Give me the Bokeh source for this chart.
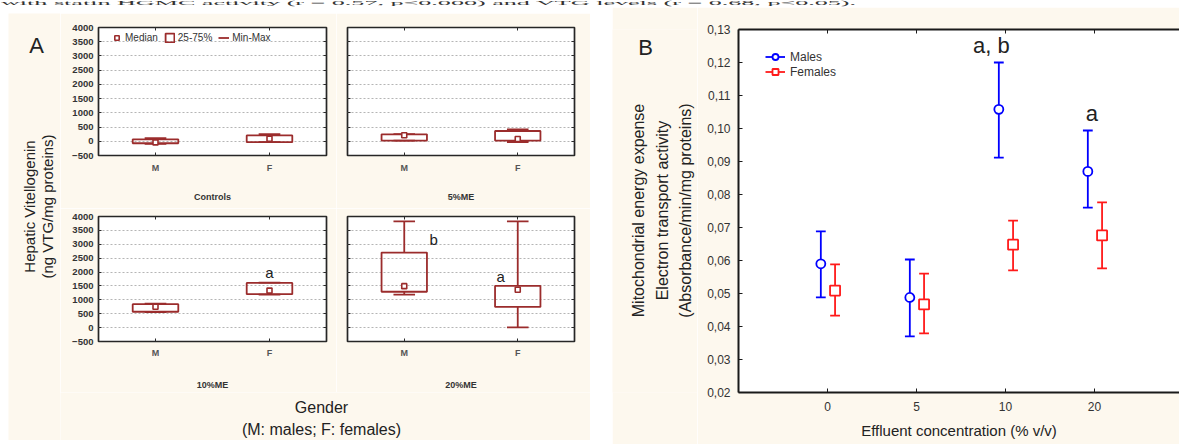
import math
import html
from bokeh.plotting import figure
from bokeh.layouts import row, column
from bokeh.models import (Range1d, FixedTicker, LinearAxis, Legend, LegendItem,
                          CustomJSTickFormatter, Spacer, Div)
from bokeh.core.properties import value
from bokeh.embed import file_html
from bokeh.resources import INLINE

# ---------------- data ----------------
caption = "with statin HGMC activity (r = 0.57, p<0.000) and VTG levels (r = 0.68, p<0.05)."

# Panel A : hepatic vitellogenin box plots (ng VTG/mg proteins)
panel_titles = ["Controls", "5%ME", "10%ME", "20%ME"]
sex_labels = ["M", "F"]
vtg_min = [[-90, -30], [20, -25], [560, 1190], [1185, 12]]
vtg_q1 = [[-70, -30], [23, 23], [571, 1202], [1291, 746]]
vtg_median = [[-40, 90], [210, 80], [750, 1333], [1493, 1362]]
vtg_q3 = [[70, 206], [245, 362], [845, 1607], [2700, 1505]]
vtg_max = [[110, 253], [250, 420], [860, 1620], [3827, 3827]]
vtg_ticks = [-500, 0, 500, 1000, 1500, 2000, 2500, 3000, 3500, 4000]
a_letter_panel = [2, 3, 3]
a_letter_text = ["a", "b", "a"]
a_letter_x = [3.0, 1.52, 2.70]
a_letter_y = [2000, 3175, 1836]

# Panel B : electron transport activity
conc_labels = ["0", "5", "10", "20"]
males_mean = [0.0590, 0.0488, 0.1058, 0.0870]
males_low = [0.0488, 0.0370, 0.0912, 0.0760]
males_high = [0.0688, 0.0603, 0.1200, 0.0994]
females_mean = [0.0509, 0.0467, 0.0648, 0.0676]
females_low = [0.0433, 0.0379, 0.0570, 0.0576]
females_high = [0.0588, 0.0560, 0.0721, 0.0776]
b_ticks = [0.02, 0.03, 0.04, 0.05, 0.06, 0.07, 0.08, 0.09, 0.10, 0.11, 0.12, 0.13]
b_letter_text = ["a, b", "a"]
b_letter_x = [1.84, 2.97]
b_letter_y = [0.1252, 0.1045]

# ---------------- styles ----------------
CREAM = "#fdf8ee"
BOX_RED = "#9b2c2c"
BLUE = "#0000ff"
RED = "#ff1a1a"
FONT = "Liberation Sans"
SEX_POS = [1, 3]


def hide_labels(ax):
    ax.major_label_text_font_size = "1px"
    ax.major_label_text_alpha = 0
    ax.major_label_standoff = 0


def blank_fig(w, h, xr, yr, fill=CREAM, top=0, bottom=0):
    p = figure(width=w, height=h, x_range=Range1d(*xr), y_range=Range1d(*yr),
               output_backend="svg", toolbar_location=None,
               min_border_left=0, min_border_right=0, min_border_top=top, min_border_bottom=bottom)
    p.axis.visible = False
    p.grid.visible = False
    p.outline_line_color = None
    p.background_fill_color = fill
    p.border_fill_color = fill
    return p


def box_fig(i, w, h, left, right, top, bottom, show_y, lab_standoff, title_standoff):
    p = figure(width=w, height=h, x_range=Range1d(0, 4), y_range=Range1d(-500, 4000),
               output_backend="svg", toolbar_location=None,
               min_border_left=left, min_border_right=right,
               min_border_top=top, min_border_bottom=bottom)
    p.background_fill_color = "white"
    p.border_fill_color = CREAM
    p.outline_line_color = "#262626"
    p.outline_line_width = 1.7
    p.xgrid.visible = False
    p.ygrid.ticker = FixedTicker(ticks=vtg_ticks)
    p.ygrid.grid_line_dash = "2 2"
    p.ygrid.grid_line_color = "#b5b5b5"
    p.ygrid.grid_line_width = 1

    for ax in p.axis:
        ax.axis_line_color = None
        ax.major_tick_in = 3
        ax.major_tick_out = 0
        ax.minor_tick_line_color = None
        ax.major_tick_line_color = "#2b2b2b"
    p.yaxis.ticker = FixedTicker(ticks=vtg_ticks)
    p.yaxis.major_label_text_font = FONT
    p.yaxis.major_label_text_font_size = "9.5px"
    p.yaxis.major_label_text_font_style = "bold"
    p.yaxis.major_label_text_color = "#333333"
    p.yaxis.major_label_standoff = 5
    if not show_y:
        hide_labels(p.yaxis[0])

    p.xaxis.ticker = FixedTicker(ticks=SEX_POS)
    p.xaxis.major_label_overrides = {SEX_POS[k]: sex_labels[k] for k in range(2)}
    p.xaxis.major_label_text_font = FONT
    p.xaxis.major_label_text_font_size = "9px"
    p.xaxis.major_label_text_font_style = "bold"
    p.xaxis.major_label_text_color = "#555555"
    p.xaxis.major_label_standoff = lab_standoff
    p.xaxis.axis_label = panel_titles[i]
    p.xaxis.axis_label_text_font = FONT
    p.xaxis.axis_label_text_font_size = "9px"
    p.xaxis.axis_label_text_font_style = "bold"
    p.xaxis.axis_label_text_color = "#333333"
    p.xaxis.axis_label_standoff = title_standoff

    # mirrored tick axes
    ra = LinearAxis(ticker=FixedTicker(ticks=vtg_ticks), axis_line_color=None,
                    major_tick_in=3, major_tick_out=0, minor_tick_line_color=None,
                    major_tick_line_color="#2b2b2b")
    hide_labels(ra)
    p.add_layout(ra, "right")
    ta = LinearAxis(ticker=FixedTicker(ticks=SEX_POS), axis_line_color=None,
                    major_tick_in=3, major_tick_out=0, minor_tick_line_color=None,
                    major_tick_line_color="#2b2b2b")
    hide_labels(ta)
    p.add_layout(ta, "above")

    xs = SEX_POS
    mn, q1, md, q3, mx = vtg_min[i], vtg_q1[i], vtg_median[i], vtg_q3[i], vtg_max[i]
    p.segment(x0=xs, y0=q3, x1=xs, y1=mx, line_color=BOX_RED, line_width=1.8)
    p.segment(x0=xs, y0=q1, x1=xs, y1=mn, line_color=BOX_RED, line_width=1.8)
    caps = p.segment(x0=[x - 0.19 for x in xs], y0=mx, x1=[x + 0.19 for x in xs], y1=mx,
                     line_color=BOX_RED, line_width=1.8)
    p.segment(x0=[x - 0.19 for x in xs], y0=mn, x1=[x + 0.19 for x in xs], y1=mn,
              line_color=BOX_RED, line_width=1.8)
    boxes = p.quad(left=[x - 0.4 for x in xs], right=[x + 0.4 for x in xs], bottom=q1, top=q3,
                   fill_color=None, line_color=BOX_RED, line_width=1.8)
    meds = p.scatter(x=xs, y=md, marker="square", size=5, fill_color="white",
                     line_color=BOX_RED, line_width=1.6)

    idx = [k for k in range(len(a_letter_panel)) if a_letter_panel[k] == i]
    if idx:
        p.text(x=[a_letter_x[k] for k in idx], y=[a_letter_y[k] for k in idx],
               text=[a_letter_text[k] for k in idx], text_align="center",
               text_baseline="middle", text_font=value(FONT), text_font_size="15px",
               text_color="#222222")
    return p, meds, boxes, caps


a1, meds1, boxes1, caps1 = box_fig(0, 276, 195, 38, 10, 14, 53, True, 7, 16)
a2, _, _, _ = box_fig(1, 254, 195, 11, 16, 14, 53, False, 7, 16)
a3, _, _, _ = box_fig(2, 276, 184, 38, 10, 8, 50, True, 6, 19)
a4, _, _, _ = box_fig(3, 254, 184, 11, 16, 8, 50, False, 6, 19)

# legend of panel A
legA = Legend(items=[LegendItem(label="Median", renderers=[meds1]),
                     LegendItem(label="25-75%", renderers=[boxes1]),
                     LegendItem(label="Min-Max", renderers=[caps1])],
              orientation="horizontal", location=(13, 112), margin=0, padding=0,
              glyph_width=11, glyph_height=11, label_height=11, label_standoff=3, spacing=6,
              label_text_font=FONT, label_text_font_size="10px", label_text_color="#333333",
              border_line_color=None, background_fill_alpha=0)
a1.add_layout(legA)

# left label strip of panel A
leftA = blank_fig(52, 427, (0, 52), (0, 427))
leftA.text(x=[28], y=[395], text=["A"], text_align="center", text_baseline="middle",
           text_font=value(FONT), text_font_size="22px", text_color="#222222")
leftA.text(x=[21, 39], y=[234, 234], text=["Hepatic Vitellogenin", "(ng VTG/mg proteins)"],
           angle=math.pi / 2, text_align="center", text_baseline="middle",
           text_font=value(FONT), text_font_size="15px", text_color="#222222")

bottomA = blank_fig(530, 48, (0, 530), (0, 48))
bottomA.text(x=[261, 261], y=[33, 11], text=["Gender", "(M: males; F: females)"],
             text_align="center", text_baseline="middle", text_font=value(FONT),
             text_font_size="16px", text_color="#222222")

# ---------------- Panel B ----------------
pB = figure(width=482, height=437, x_range=Range1d(-1, 3.955), y_range=Range1d(0.02, 0.13),
            output_backend="svg", toolbar_location=None,
            min_border_left=41, min_border_right=0, min_border_top=22, min_border_bottom=52)
pB.background_fill_color = "white"
pB.border_fill_color = CREAM
pB.outline_line_color = None
pB.grid.visible = False
for ax in pB.axis:
    ax.axis_line_color = "#1a1a1a"
    ax.axis_line_width = 2
    ax.major_tick_in = 4
    ax.major_tick_out = 0
    ax.major_tick_line_color = "#1a1a1a"
    ax.minor_tick_line_color = None
    ax.major_label_text_font = FONT
    ax.major_label_text_font_size = "12px"
    ax.major_label_text_color = "#333333"
pB.yaxis.ticker = FixedTicker(ticks=b_ticks)
pB.yaxis.formatter = CustomJSTickFormatter(code="return tick.toFixed(2).replace('.', ',');")
pB.yaxis.major_label_standoff = 8
pB.xaxis.ticker = FixedTicker(ticks=list(range(len(conc_labels))))
pB.xaxis.major_label_overrides = {k: conc_labels[k] for k in range(len(conc_labels))}
pB.xaxis.major_label_standoff = 9
pB.xaxis.axis_label = "Effluent concentration (% v/v)"
pB.xaxis.axis_label_text_font = FONT
pB.xaxis.axis_label_text_font_size = "15px"
pB.xaxis.axis_label_text_font_style = "normal"
pB.xaxis.axis_label_text_color = "#222222"
pB.xaxis.axis_label_standoff = 8
topB = LinearAxis(ticker=FixedTicker(ticks=list(range(len(conc_labels)))),
                  axis_line_color="#1a1a1a", axis_line_width=2, major_tick_in=4,
                  major_tick_out=0, minor_tick_line_color=None, major_tick_line_color="#1a1a1a")
hide_labels(topB)
pB.add_layout(topB, "above")

mx_ = [k - 0.075 for k in range(len(conc_labels))]
fx_ = [k + 0.085 for k in range(len(conc_labels))]
CAP = 0.055
pB.segment(x0=mx_, y0=males_low, x1=mx_, y1=males_high, line_color=BLUE, line_width=1.8)
m_cap = pB.segment(x0=[x - CAP for x in mx_], y0=males_low, x1=[x + CAP for x in mx_],
                   y1=males_low, line_color=BLUE, line_width=1.8)
pB.segment(x0=[x - CAP for x in mx_], y0=males_high, x1=[x + CAP for x in mx_], y1=males_high,
           line_color=BLUE, line_width=1.8)
m_pts = pB.scatter(x=mx_, y=males_mean, marker="circle", size=9, fill_color="white",
                   line_color=BLUE, line_width=1.8)
pB.segment(x0=fx_, y0=females_low, x1=fx_, y1=females_high, line_color=RED, line_width=1.8)
f_cap = pB.segment(x0=[x - CAP for x in fx_], y0=females_low, x1=[x + CAP for x in fx_],
                   y1=females_low, line_color=RED, line_width=1.8)
pB.segment(x0=[x - CAP for x in fx_], y0=females_high, x1=[x + CAP for x in fx_], y1=females_high,
           line_color=RED, line_width=1.8)
f_pts = pB.scatter(x=fx_, y=females_mean, marker="square", size=10, fill_color="white",
                   line_color=RED, line_width=1.8)
pB.text(x=b_letter_x, y=b_letter_y, text=b_letter_text, text_align="center",
        text_baseline="middle", text_font=value(FONT), text_font_size="22px",
        text_color="#222222")

legB = Legend(items=[LegendItem(label="Males", renderers=[m_cap, m_pts]),
                     LegendItem(label="Females", renderers=[f_cap, f_pts])],
              location=(27, 313), margin=0, padding=0, spacing=0,
              glyph_width=20, glyph_height=15, label_height=15, label_standoff=5,
              label_text_font=FONT, label_text_font_size="12px", label_text_color="#333333",
              border_line_color=None, background_fill_alpha=0)
pB.add_layout(legB)

# left label strip of panel B: frame spans the same rows as the plot frame (page y 29..392)
leftB = blank_fig(85, 437, (0, 85), (0, 363), top=22, bottom=52)
leftB.text(x=[33], y=[345], text=["B"], text_align="center", text_baseline="middle",
           text_font=value(FONT), text_font_size="22px", text_color="#222222")
leftB.text(x=[26, 50, 73], y=[182, 182, 182],
           text=["Mitochondrial energy expense", "Electron transport activity",
                 "(Absorbance/min/mg proteins)"],
           angle=math.pi / 2, text_align="center", text_baseline="middle",
           text_font=value(FONT), text_font_size="16px", text_color="#222222")

# ---------------- caption strip ----------------
caption_html = ('<span style="display:inline-block;white-space:nowrap;transform:scaleX(4.35);'
                'transform-origin:0 0">' + html.escape(caption) + '</span>')
top_div = Div(text=caption_html, width=1179, height=7,
              styles={"font-size": "6px", "line-height": "7px", "font-family": "Liberation Serif",
                      "color": "#333333", "overflow": "hidden", "white-space": "nowrap",
                      "padding-left": "1px", "margin": "0"})

gridA = column(row(a1, a2), row(a3, a4), bottomA)
panelA = row(leftA, gridA)
colA = column(Spacer(width=582, height=6), panelA)
panelB = row(leftB, pB)
main = row(Spacer(width=8, height=437), colA, Spacer(width=22, height=437), panelB)
layout = column(top_div, main)

open("out.html", "w").write(file_html(layout, INLINE))
